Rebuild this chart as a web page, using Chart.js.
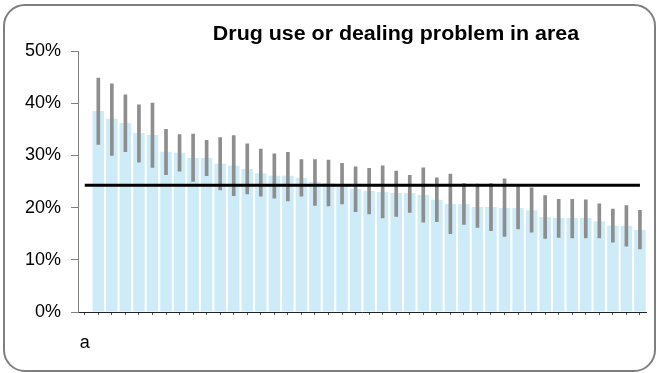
<!DOCTYPE html>
<html>
<head>
<meta charset="utf-8">
<script src="https://cdn.jsdelivr.net/npm/chart.js@4"></script>
<style>
    body { margin: 0; background: #fff; }
    #wrap { position: relative; width: 657px; height: 373px; }
    #frame {
        position: absolute; left: 3px; top: 4px; width: 649px; height: 364px;
        border: 2px solid #7f7f7f; border-radius: 22px;
    }
    #title {
        position: absolute; left: 0; top: 22px; width: 792px; text-align: center;
        font: bold 20px "Liberation Sans", Arial, sans-serif; color: #000;
        transform: scaleX(1.07); transform-origin: 396px 0;
    }
    canvas { position: absolute; left: 0; top: 0; }
</style>
</head>
<body>
<div id="wrap">
    <div id="frame"></div>
    <canvas id="chart" width="657" height="373"></canvas>
    <div id="title">Drug use or dealing problem in area</div>
</div>
<script>
// categories: only the first one carries a label, and it has no bar
var categories = ['a', '', '', '', '', '', '', '', '', '', '', '', '', '', '', '', '', '', '', '', '',
    '', '', '', '', '', '', '', '', '', '', '', '', '', '', '', '', '', '', '', '', ''];

// percentages, one per category (first is empty)
var values = [null, 38.5, 37.0, 36.2, 34.3, 33.9, 30.7, 30.5, 29.5, 29.5, 28.4,
    28.0, 27.4, 26.6, 26.1, 26.1, 25.7, 24.9, 24.7, 24.1, 23.6,
    23.2, 23.0, 22.8, 22.8, 22.4, 21.5, 20.7, 20.7, 20.1, 20.1,
    19.9, 19.9, 19.5, 18.2, 18.0, 18.0, 18.0, 17.4, 16.5, 16.5, 15.7];

// confidence interval ends
var errLow = [null, 32.1, 30.0, 30.7, 28.7, 27.7, 26.3, 27.0, 25.0, 26.1, 23.4,
    22.3, 22.6, 22.2, 21.8, 21.3, 22.2, 20.4, 20.3, 20.7, 19.2,
    18.8, 18.0, 18.3, 19.1, 17.2, 17.3, 15.0, 16.8, 16.2, 15.6,
    14.5, 15.9, 15.3, 14.1, 14.3, 14.2, 14.2, 14.2, 13.4, 12.6, 12.1];
var errHigh = [null, 44.8, 43.7, 41.6, 39.7, 40.0, 35.0, 34.0, 34.1, 32.9, 33.4,
    33.8, 32.2, 31.2, 30.3, 30.6, 29.2, 29.2, 29.1, 28.5, 27.8,
    27.5, 28.0, 27.0, 26.2, 27.6, 25.7, 26.4, 24.6, 24.5, 24.6,
    25.5, 24.4, 23.8, 22.3, 21.6, 21.6, 21.5, 20.7, 19.7, 20.4, 19.5];

var average = 24.3;

var yTicks = [0, 10, 20, 30, 40, 50];

var errRanges = errLow.map(function (lo, i) {
    return lo === null ? null : [lo, errHigh[i]];
});
var averageLine = categories.map(function () { return average; });

var font = '"Liberation Sans", Arial, sans-serif';

new Chart(document.getElementById('chart'), {
    data: {
        labels: categories,
        datasets: [{
            type: 'line',
            data: averageLine,
            borderColor: '#000',
            borderWidth: 3,
            pointRadius: 0,
            order: 0
        }, {
            type: 'bar',
            data: errRanges,
            backgroundColor: '#8e8e8e',
            barThickness: 3,
            grouped: false,
            order: 1
        }, {
            type: 'bar',
            data: values,
            backgroundColor: '#cdecf8',
            categoryPercentage: 1,
            barPercentage: 0.85,
            grouped: false,
            order: 2
        }]
    },
    options: {
        responsive: false,
        animation: false,
        layout: { padding: { left: 0, right: 5, top: 51, bottom: 16 } },
        plugins: { legend: { display: false }, tooltip: { enabled: false } },
        scales: {
            x: {
                grid: { drawOnChartArea: false, offset: false, tickLength: 3, color: '#555' },
                border: { color: '#222', width: 1 },
                ticks: {
                    autoSkip: false, maxRotation: 0, padding: 17,
                    color: '#000', font: { family: font, size: 18 }
                },
                afterFit: function (scale) { scale.height = 45; }
            },
            y: {
                min: 0,
                max: 50,
                afterBuildTicks: function (scale) {
                    scale.ticks = yTicks.map(function (v) { return { value: v }; });
                },
                grid: { drawOnChartArea: false, tickLength: 7, color: '#808080' },
                border: { color: '#808080', width: 1 },
                ticks: {
                    padding: 10,
                    color: '#000',
                    font: { family: font, size: 18 },
                    callback: function (v) { return v + '%'; }
                },
                afterFit: function (scale) { scale.width = 78; }
            }
        }
    }
});
</script>
</body>
</html>
